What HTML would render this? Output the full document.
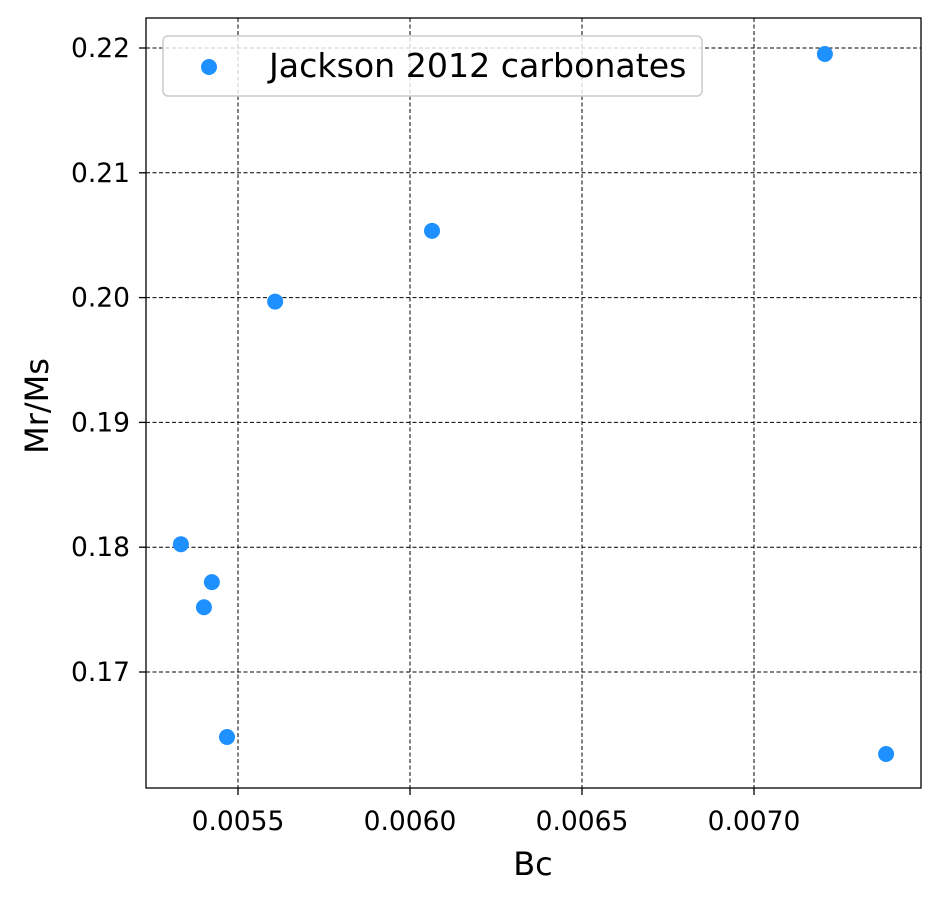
<!DOCTYPE html>
<html><head><meta charset="utf-8"><style>
body{margin:0;background:#fff;}
svg{display:block;font-family:"DejaVu Sans","Liberation Sans",sans-serif;}
</style></head><body>
<svg id="chart" width="940" height="901" xmlns="http://www.w3.org/2000/svg">
<rect x="0" y="0" width="940" height="901" fill="#fff"/>
<g id="grid"></g>
<g id="points"></g>
<rect x="146" y="18" width="775" height="770" fill="none" stroke="#000" stroke-width="1.3"/>
<g id="ticks"></g>
<text x="533" y="875" font-size="32" text-anchor="middle">Bc</text>
<text transform="translate(48,406) rotate(-90)" font-size="32" text-anchor="middle">Mr/Ms</text>
<g>
<rect x="163" y="36" width="539" height="60" rx="5" fill="#fff" fill-opacity="0.8" stroke="#ccc" stroke-width="1.5"/>
<circle cx="209" cy="67" r="8" fill="#1e90ff"/>
<text x="269" y="77" font-size="33.2">Jackson 2012 carbonates</text>
</g>
</svg>
<script>
const xVals=[0.007206,0.006064,0.005608,0.005334,0.005424,0.005401,0.005468,0.007384];
const yVals=[0.21952,0.20535,0.19968,0.18024,0.17720,0.17519,0.16479,0.16343];
const xTicks=[0.0055,0.0060,0.0065,0.0070];
const xTickLabels=["0.0055","0.0060","0.0065","0.0070"];
const yTicks=[0.17,0.18,0.19,0.20,0.21,0.22];
const yTickLabels=["0.17","0.18","0.19","0.20","0.21","0.22"];
const NS="http://www.w3.org/2000/svg";
function X(v){return 238+(v-0.0055)*344000;}
function Y(v){return 48+(0.22-v)*12480;}
function mk(t,a,p){const e=document.createElementNS(NS,t);for(const k in a)e.setAttribute(k,a[k]);p.appendChild(e);return e;}
const grid=document.getElementById('grid'),ticks=document.getElementById('ticks'),pts=document.getElementById('points');
xTicks.forEach((v,i)=>{
 const x=X(v);
 const g=mk('line',{x1:x,x2:x,y1:18,y2:788,stroke:'#000','stroke-width':1,'stroke-dasharray':'4,2.5'},grid);
 
 
 const t=mk('line',{x1:x,x2:x,y1:788,y2:795,stroke:'#000','stroke-width':1.3},ticks);
 
 
 const l=mk('text',{x:x,y:830,'font-size':26.5,'text-anchor':'middle'},ticks);l.textContent=xTickLabels[i];
 
 
});
yTicks.forEach((v,i)=>{
 const y=Y(v);
 const g=mk('line',{x1:146,x2:921,y1:y,y2:y,stroke:'#000','stroke-width':1,'stroke-dasharray':'4,2.5'},grid);
 
 
 const t=mk('line',{x1:139,x2:146,y1:y,y2:y,stroke:'#000','stroke-width':1.3},ticks);
 
 
 const l=mk('text',{x:130,y:y+9,'font-size':26.5,'text-anchor':'end'},ticks);l.textContent=yTickLabels[i];
 
 
});
xVals.forEach((v,i)=>{
 const c=mk('circle',{cx:X(v),cy:Y(yVals[i]),r:8,fill:'#1e90ff'},pts);
 
 
});
</script>
</body></html>
